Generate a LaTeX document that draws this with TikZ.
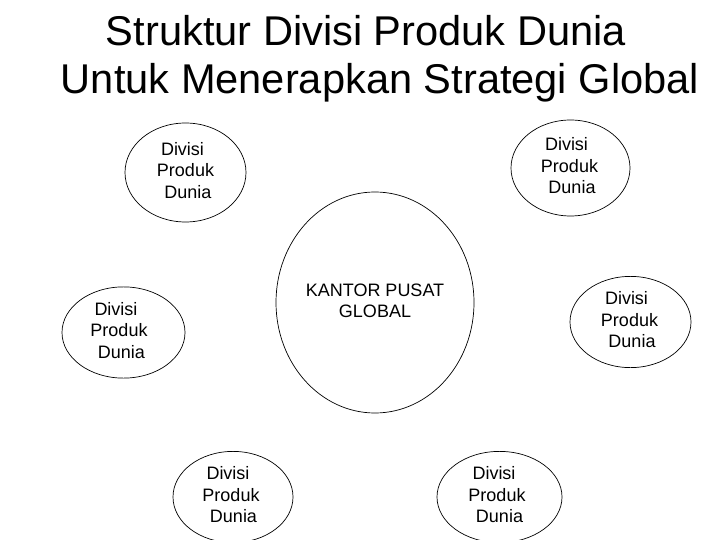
\documentclass[tikz,border=0pt]{standalone}
\usepackage{fontspec}
\setmainfont{Liberation Sans}
\usetikzlibrary{shapes.geometric}
\newcommand{\dpdtext}[1]{\kern#1bp\begin{tabular}{@{}c@{}}\hspace*{-6bp}Divisi\\Produk\\\hspace*{5bp}Dunia\end{tabular}}
\begin{document}
\begin{tikzpicture}[x=1bp,y=-1bp,
  oval/.style={ellipse,draw=black,line width=0.7bp,inner sep=0pt,
    font=\fontsize{18bp}{21.5bp}\selectfont},
  ttl/.style={anchor=base,inner sep=0pt,font=\fontsize{41.6bp}{48bp}\selectfont}]
\useasboundingbox (0,0) rectangle (720,540);
\node[ttl] (title1) at (366,46) {Struktur Divisi Produk Dunia};
\node[ttl] (title2) at (380,94) {Untuk Menerapkan Strategi Global};
\node[oval,minimum width=198bp,minimum height=221bp] (hq) at (375,302.5) {\begin{tabular}{@{}c@{}}KANTOR PUSAT\\GLOBAL\end{tabular}};
\node[oval,minimum width=121bp,minimum height=99bp] (d1) at (185.5,172.5) {\dpdtext{0}};
\node[oval,minimum width=119bp,minimum height=96bp] (d2) at (570.5,168) {\dpdtext{-2}};
\node[oval,minimum width=123bp,minimum height=91bp] (d3) at (123.5,332.5) {\dpdtext{-9}};
\node[oval,minimum width=121bp,minimum height=90bp] (d4) at (630.5,322) {\dpdtext{-2}};
\node[oval,minimum width=120bp,minimum height=84bp] (d5) at (233,497) {\dpdtext{-4}};
\node[oval,minimum width=125bp,minimum height=84bp] (d6) at (499.5,497) {\dpdtext{-5}};
\end{tikzpicture}
\end{document}
